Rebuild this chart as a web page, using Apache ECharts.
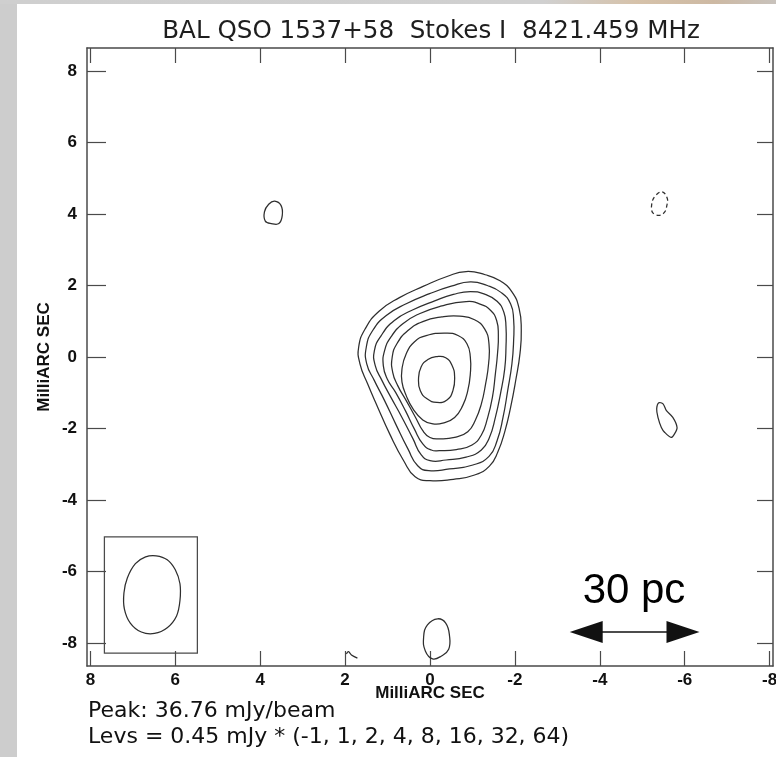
<!DOCTYPE html>
<html>
<head>
<meta charset="utf-8">
<script src="https://cdn.jsdelivr.net/npm/echarts@6/dist/echarts.min.js"></script>
<style>
  html, body { margin: 0; padding: 0; }
  #wrap { position: relative; width: 776px; height: 757px; background: #cdcdcd; overflow: hidden; }
  #topstrip { position: absolute; left: 0; top: 0; width: 776px; height: 4px;
    background: linear-gradient(to right, #cfcfcf 0%, #d0d0d0 70%, #d6c2aa 82%, #cdb9a3 92%, #c8c2bc 100%); }
  #panel { position: absolute; left: 17px; top: 4px; width: 759px; height: 753px; background: #ffffff; }
  #chart { position: absolute; left: 0; top: 0; width: 776px; height: 757px; }
</style>
</head>
<body>
<div id="wrap">
  <div id="topstrip"></div>
  <div id="panel"></div>
  <div id="chart"></div>
</div>
<script>
// Axis ticks (milliarcseconds relative to the phase centre)
const xTicks = [8, 6, 4, 2, 0, -2, -4, -6, -8];
const yTicks = [-8, -6, -4, -2, 0, 2, 4, 6, 8];

// Contour levels, in units of the lowest level (0.45 mJy/beam)
const levels = [-1, 1, 2, 4, 8, 16, 32, 64];

// Main component: contours from the lowest positive level inwards, [RA offset, Dec offset]
const core1 = [[-0.85,2.39],[-1.30,2.30],[-1.65,2.13],[-1.93,1.82],[-2.10,1.35],[-2.15,0.75],[-2.12,0.10],[-2.02,-0.65],[-1.90,-1.40],[-1.77,-2.05],[-1.60,-2.65],[-1.40,-3.05],[-1.05,-3.30],[-0.55,-3.42],[0.00,-3.46],[0.35,-3.35],[0.62,-2.90],[0.95,-2.15],[1.23,-1.41],[1.47,-0.75],[1.65,-0.19],[1.68,0.28],[1.52,0.80],[1.20,1.28],[0.72,1.66],[0.15,1.98],[-0.40,2.25]];
const core2 = [[-0.95,2.10],[-1.35,2.00],[-1.68,1.80],[-1.90,1.48],[-1.97,1.05],[-1.97,0.46],[-1.93,-0.19],[-1.83,-0.94],[-1.72,-1.69],[-1.58,-2.34],[-1.39,-2.78],[-1.01,-3.02],[-0.46,-3.13],[0.03,-3.18],[0.29,-3.04],[0.52,-2.57],[0.81,-1.87],[1.07,-1.22],[1.31,-0.66],[1.49,-0.19],[1.50,0.28],[1.35,0.74],[1.03,1.16],[0.56,1.49],[0.01,1.77],[-0.50,1.98]];
const core3 = [[-0.95,1.83],[-1.30,1.75],[-1.58,1.56],[-1.74,1.25],[-1.79,0.85],[-1.79,0.28],[-1.76,-0.33],[-1.66,-1.03],[-1.54,-1.69],[-1.40,-2.25],[-1.21,-2.60],[-0.85,-2.80],[-0.38,-2.88],[0.00,-2.90],[0.21,-2.73],[0.40,-2.29],[0.66,-1.69],[0.92,-1.13],[1.13,-0.66],[1.29,-0.24],[1.31,0.18],[1.15,0.60],[0.84,1.02],[0.40,1.32],[-0.11,1.57],[-0.55,1.75]];
const core4 = [[-0.85,1.55],[-1.18,1.48],[-1.43,1.30],[-1.57,1.02],[-1.61,0.62],[-1.59,0.09],[-1.54,-0.47],[-1.47,-1.13],[-1.35,-1.73],[-1.21,-2.18],[-0.99,-2.46],[-0.62,-2.59],[-0.22,-2.62],[-0.03,-2.60],[0.17,-2.43],[0.37,-2.01],[0.58,-1.50],[0.81,-0.99],[1.01,-0.61],[1.10,-0.24],[1.07,0.18],[0.92,0.56],[0.64,0.93],[0.25,1.21],[-0.25,1.42]];
const core5 = [[-0.70,1.14],[-1.05,1.04],[-1.29,0.78],[-1.39,0.36],[-1.38,-0.19],[-1.31,-0.75],[-1.21,-1.31],[-1.07,-1.76],[-0.89,-2.09],[-0.58,-2.25],[-0.22,-2.29],[0.00,-2.25],[0.17,-2.06],[0.34,-1.69],[0.56,-1.22],[0.76,-0.80],[0.88,-0.42],[0.89,0.00],[0.78,0.37],[0.52,0.74],[0.17,0.99],[-0.28,1.12]];
const core6 = [[-0.38,0.67],[-0.66,0.60],[-0.87,0.37],[-0.95,0.00],[-0.95,-0.47],[-0.89,-0.94],[-0.77,-1.36],[-0.58,-1.69],[-0.30,-1.85],[-0.07,-1.87],[0.17,-1.76],[0.40,-1.45],[0.56,-1.08],[0.66,-0.70],[0.66,-0.33],[0.56,0.09],[0.37,0.42],[0.09,0.60]];
const core7 = [[-0.15,0.01],[-0.37,-0.02],[-0.52,-0.24],[-0.58,-0.56],[-0.54,-0.94],[-0.40,-1.20],[-0.16,-1.27],[0.07,-1.17],[0.23,-0.94],[0.27,-0.61],[0.21,-0.28],[0.05,-0.07]];

// Isolated lowest-level islands
const islandNE = [[3.66,4.36],[3.51,4.24],[3.48,3.96],[3.56,3.73],[3.74,3.73],[3.88,3.80],[3.90,4.06],[3.80,4.27]];
const islandW = [[-5.39,-1.28],[-5.49,-1.31],[-5.57,-1.50],[-5.72,-1.69],[-5.82,-1.97],[-5.76,-2.15],[-5.68,-2.25],[-5.53,-2.11],[-5.45,-1.97],[-5.37,-1.69],[-5.34,-1.45]];
const islandS = [[-0.18,-7.32],[-0.37,-7.44],[-0.46,-7.80],[-0.44,-8.17],[-0.27,-8.36],[-0.06,-8.44],[0.11,-8.22],[0.15,-7.83],[0.06,-7.49]];
const islandEdge = [[1.97,-8.30],[1.92,-8.24],[1.85,-8.33],[1.71,-8.42]];

// Negative (-1) level contour
const negNW = [[-5.47,4.62],[-5.59,4.43],[-5.58,4.24],[-5.53,4.06],[-5.41,3.96],[-5.25,4.03],[-5.22,4.24],[-5.29,4.48]];

// Restoring beam (lower-left inset) and its frame
const beamOutline = [[6.45,-5.56],[6.19,-5.67],[6.00,-5.95],[5.89,-6.34],[5.89,-6.81],[5.97,-7.24],[6.19,-7.57],[6.49,-7.73],[6.80,-7.69],[7.06,-7.44],[7.20,-7.04],[7.21,-6.60],[7.13,-6.18],[6.94,-5.78],[6.70,-5.59]];
const beamBox = [[7.67,-5.03],[5.48,-5.03],[5.48,-8.28],[7.67,-8.28]];

// Linear scale bar (30 pc), arrow-head centres in mas
const scaleBarEnds = [[-3.68,-7.69],[-5.96,-7.69]];
const scaleBarText = '30 pc';

const titleText = 'BAL QSO 1537+58  Stokes I  8421.459 MHz';
const peakText = 'Peak: 36.76 mJy/beam';
const levsText = 'Levs = 0.45 mJy * (' + levels.join(', ') + ')';

const ink = '#2e2e2e';
const frame = '#4a4a4a';
const tickFont = { fontFamily: 'Liberation Sans', fontWeight: 'bold', fontSize: 17, color: '#111' };
const nameFont = { fontFamily: 'Liberation Sans', fontWeight: 'bold', fontSize: 17, color: '#111' };

// Every outline drawn on the map: points, closed or open, smoothing, dash
const outlines = [
  { pts: core1, closed: true, smooth: 0.5 },
  { pts: core2, closed: true, smooth: 0.5 },
  { pts: core3, closed: true, smooth: 0.5 },
  { pts: core4, closed: true, smooth: 0.5 },
  { pts: core5, closed: true, smooth: 0.5 },
  { pts: core6, closed: true, smooth: 0.5 },
  { pts: core7, closed: true, smooth: 0.5 },
  { pts: islandNE, closed: true, smooth: 0.4 },
  { pts: islandW, closed: true, smooth: 0.3 },
  { pts: islandS, closed: true, smooth: 0.45 },
  { pts: islandEdge, closed: false, smooth: 0.3 },
  { pts: negNW, closed: true, smooth: 0.4, dash: [4, 3] },
  { pts: beamOutline, closed: true, smooth: 0.35 },
  { pts: beamBox, closed: true, smooth: 0, color: frame }
];

function renderOutline(params, api) {
  const o = outlines[params.dataIndex];
  const points = o.pts.map(p => api.coord(p));
  return {
    type: o.closed ? 'polygon' : 'polyline',
    shape: { points: points, smooth: o.smooth },
    style: { fill: 'none', stroke: o.color || ink, lineWidth: 1.25, lineDash: o.dash || null },
    silent: true
  };
}

const chart = echarts.init(document.getElementById('chart'), null, { renderer: 'canvas' });

const xBase = { type: 'value', min: -8.08, max: 8.08, inverse: true, splitLine: { show: false } };
const yBase = { type: 'value', min: -8.64, max: 8.64, splitLine: { show: false } };

chart.setOption({
  backgroundColor: 'transparent',
  animation: false,
  grid: { left: 87, top: 48, right: 3, bottom: 91, containLabel: false, outerBoundsMode: 'none' },
  xAxis: [
    Object.assign({}, xBase, {
      position: 'bottom',
      axisLine: { show: true, onZero: false, lineStyle: { color: frame, width: 1.5 } },
      axisTick: { show: true, inside: true, length: 15, customValues: xTicks, lineStyle: { color: frame, width: 1.2 } },
      axisLabel: Object.assign({ show: true, customValues: xTicks, margin: 6, formatter: v => String(v) }, tickFont),
      name: 'MilliARC SEC', nameLocation: 'middle', nameGap: 19, nameMoveOverlap: false,
      nameTextStyle: nameFont
    }),
    Object.assign({}, xBase, {
      position: 'top',
      axisLine: { show: true, onZero: false, lineStyle: { color: frame, width: 1.5 } },
      axisTick: { show: true, inside: true, length: 15, customValues: xTicks, lineStyle: { color: frame, width: 1.2 } },
      axisLabel: { show: false }
    })
  ],
  yAxis: [
    Object.assign({}, yBase, {
      position: 'left',
      axisLine: { show: true, onZero: false, lineStyle: { color: frame, width: 1.5 } },
      axisTick: { show: true, inside: true, length: 19, customValues: yTicks, lineStyle: { color: frame, width: 1.2 } },
      axisLabel: Object.assign({ show: true, customValues: yTicks, margin: 10, formatter: v => String(v) }, tickFont),
      name: 'MilliARC SEC', nameLocation: 'middle', nameGap: 34, nameRotate: 90, nameMoveOverlap: false,
      nameTextStyle: nameFont
    }),
    Object.assign({}, yBase, {
      position: 'right',
      axisLine: { show: true, onZero: false, lineStyle: { color: frame, width: 1.5 } },
      axisTick: { show: true, inside: true, length: 16, customValues: yTicks, lineStyle: { color: frame, width: 1.2 } },
      axisLabel: { show: false }
    })
  ],
  series: [
    {
      type: 'custom', coordinateSystem: 'cartesian2d', renderItem: renderOutline,
      data: outlines.map(() => [0, 0]), silent: true, animation: false, clip: true, z: 3
    },
    {
      type: 'line', data: [], silent: true, animation: false,
      markLine: {
        silent: true, animation: false,
        symbol: ['triangle', 'triangle'], symbolSize: [22, 33],
        lineStyle: { color: '#111', width: 1.5, type: 'solid' },
        label: { show: false },
        data: [[{ coord: scaleBarEnds[0] }, { coord: scaleBarEnds[1] }]]
      }
    }
  ],
  graphic: [
    { type: 'text', x: 431, y: 44, silent: true,
      style: { text: titleText, textAlign: 'center', textVerticalAlign: 'bottom',
        font: '24.6px "DejaVu Sans"', fill: '#1e1e1e' } },
    { type: 'text', x: 634, y: 612, silent: true,
      style: { text: scaleBarText, textAlign: 'center', textVerticalAlign: 'bottom',
        font: '42px "Liberation Sans"', fill: '#000' } },
    { type: 'text', x: 88, y: 722, silent: true,
      style: { text: peakText, textAlign: 'left', textVerticalAlign: 'bottom',
        font: '22px "DejaVu Sans"', fill: '#111' } },
    { type: 'text', x: 88, y: 748, silent: true,
      style: { text: levsText, textAlign: 'left', textVerticalAlign: 'bottom',
        font: '22px "DejaVu Sans"', fill: '#111' } }
  ]
});
</script>
</body>
</html>
